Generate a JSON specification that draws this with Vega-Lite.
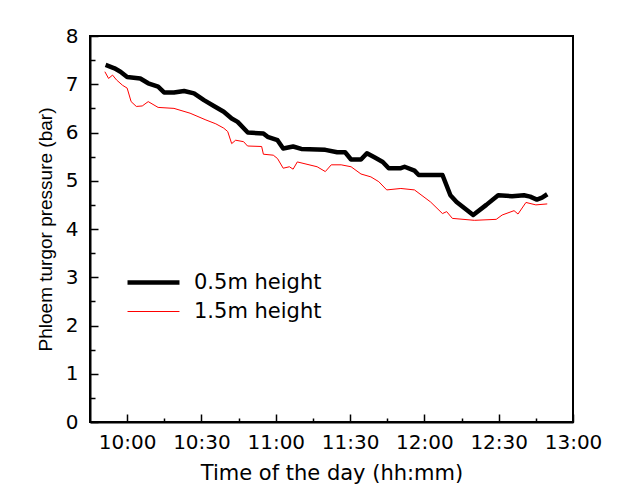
{
  "$schema": "https://vega.github.io/schema/vega-lite/v6.json",
  "autosize": "none",
  "width": 483,
  "height": 386,
  "padding": {"left": 90, "top": 36, "right": 49, "bottom": 68},
  "background": "white",
  "config": {
    "font": "DejaVu Sans",
    "view": {"stroke": "black", "strokeWidth": 2},
    "axis": {"domainColor": "black", "domainWidth": 2, "tickColor": "black", "tickWidth": 1.5, "labelColor": "black", "titleColor": "black", "grid": false}
  },
  "data": {"values": [
    {"time": "2020-01-01T09:51:18", "series": "0.5m height", "pressure": 7.40},
    {"time": "2020-01-01T09:54:54", "series": "0.5m height", "pressure": 7.33},
    {"time": "2020-01-01T09:57:18", "series": "0.5m height", "pressure": 7.26},
    {"time": "2020-01-01T10:00:00", "series": "0.5m height", "pressure": 7.15},
    {"time": "2020-01-01T10:05:18", "series": "0.5m height", "pressure": 7.12},
    {"time": "2020-01-01T10:08:30", "series": "0.5m height", "pressure": 7.02},
    {"time": "2020-01-01T10:12:30", "series": "0.5m height", "pressure": 6.95},
    {"time": "2020-01-01T10:14:54", "series": "0.5m height", "pressure": 6.83},
    {"time": "2020-01-01T10:18:54", "series": "0.5m height", "pressure": 6.83},
    {"time": "2020-01-01T10:23:00", "series": "0.5m height", "pressure": 6.86},
    {"time": "2020-01-01T10:27:00", "series": "0.5m height", "pressure": 6.81},
    {"time": "2020-01-01T10:31:00", "series": "0.5m height", "pressure": 6.67},
    {"time": "2020-01-01T10:35:00", "series": "0.5m height", "pressure": 6.55},
    {"time": "2020-01-01T10:39:00", "series": "0.5m height", "pressure": 6.43},
    {"time": "2020-01-01T10:42:12", "series": "0.5m height", "pressure": 6.29},
    {"time": "2020-01-01T10:44:36", "series": "0.5m height", "pressure": 6.22},
    {"time": "2020-01-01T10:48:42", "series": "0.5m height", "pressure": 6.00},
    {"time": "2020-01-01T10:55:00", "series": "0.5m height", "pressure": 5.98},
    {"time": "2020-01-01T10:56:42", "series": "0.5m height", "pressure": 5.91},
    {"time": "2020-01-01T11:00:42", "series": "0.5m height", "pressure": 5.84},
    {"time": "2020-01-01T11:03:00", "series": "0.5m height", "pressure": 5.67},
    {"time": "2020-01-01T11:07:00", "series": "0.5m height", "pressure": 5.71},
    {"time": "2020-01-01T11:10:18", "series": "0.5m height", "pressure": 5.66},
    {"time": "2020-01-01T11:20:00", "series": "0.5m height", "pressure": 5.64},
    {"time": "2020-01-01T11:24:48", "series": "0.5m height", "pressure": 5.59},
    {"time": "2020-01-01T11:28:00", "series": "0.5m height", "pressure": 5.59},
    {"time": "2020-01-01T11:30:24", "series": "0.5m height", "pressure": 5.44},
    {"time": "2020-01-01T11:34:24", "series": "0.5m height", "pressure": 5.44},
    {"time": "2020-01-01T11:36:48", "series": "0.5m height", "pressure": 5.57},
    {"time": "2020-01-01T11:40:00", "series": "0.5m height", "pressure": 5.48},
    {"time": "2020-01-01T11:43:12", "series": "0.5m height", "pressure": 5.39},
    {"time": "2020-01-01T11:45:36", "series": "0.5m height", "pressure": 5.26},
    {"time": "2020-01-01T11:50:30", "series": "0.5m height", "pressure": 5.26},
    {"time": "2020-01-01T11:52:00", "series": "0.5m height", "pressure": 5.29},
    {"time": "2020-01-01T11:56:00", "series": "0.5m height", "pressure": 5.21},
    {"time": "2020-01-01T11:57:42", "series": "0.5m height", "pressure": 5.12},
    {"time": "2020-01-01T12:07:18", "series": "0.5m height", "pressure": 5.12},
    {"time": "2020-01-01T12:10:30", "series": "0.5m height", "pressure": 4.70},
    {"time": "2020-01-01T12:13:00", "series": "0.5m height", "pressure": 4.56},
    {"time": "2020-01-01T12:19:42", "series": "0.5m height", "pressure": 4.29},
    {"time": "2020-01-01T12:25:00", "series": "0.5m height", "pressure": 4.50},
    {"time": "2020-01-01T12:29:48", "series": "0.5m height", "pressure": 4.70},
    {"time": "2020-01-01T12:35:24", "series": "0.5m height", "pressure": 4.68},
    {"time": "2020-01-01T12:40:12", "series": "0.5m height", "pressure": 4.70},
    {"time": "2020-01-01T12:42:42", "series": "0.5m height", "pressure": 4.67},
    {"time": "2020-01-01T12:45:24", "series": "0.5m height", "pressure": 4.61},
    {"time": "2020-01-01T12:47:30", "series": "0.5m height", "pressure": 4.65},
    {"time": "2020-01-01T12:49:36", "series": "0.5m height", "pressure": 4.72},
    {"time": "2020-01-01T09:51:00", "series": "1.5m height", "pressure": 7.26},
    {"time": "2020-01-01T09:52:30", "series": "1.5m height", "pressure": 7.12},
    {"time": "2020-01-01T09:54:06", "series": "1.5m height", "pressure": 7.19},
    {"time": "2020-01-01T09:55:42", "series": "1.5m height", "pressure": 7.09},
    {"time": "2020-01-01T09:58:06", "series": "1.5m height", "pressure": 6.98},
    {"time": "2020-01-01T10:00:00", "series": "1.5m height", "pressure": 6.92},
    {"time": "2020-01-01T10:01:36", "series": "1.5m height", "pressure": 6.64},
    {"time": "2020-01-01T10:03:42", "series": "1.5m height", "pressure": 6.54},
    {"time": "2020-01-01T10:06:06", "series": "1.5m height", "pressure": 6.55},
    {"time": "2020-01-01T10:08:30", "series": "1.5m height", "pressure": 6.64},
    {"time": "2020-01-01T10:12:30", "series": "1.5m height", "pressure": 6.52},
    {"time": "2020-01-01T10:18:54", "series": "1.5m height", "pressure": 6.50},
    {"time": "2020-01-01T10:25:24", "series": "1.5m height", "pressure": 6.40},
    {"time": "2020-01-01T10:31:48", "series": "1.5m height", "pressure": 6.26},
    {"time": "2020-01-01T10:35:48", "series": "1.5m height", "pressure": 6.18},
    {"time": "2020-01-01T10:39:00", "series": "1.5m height", "pressure": 6.09},
    {"time": "2020-01-01T10:40:36", "series": "1.5m height", "pressure": 6.02},
    {"time": "2020-01-01T10:42:12", "series": "1.5m height", "pressure": 5.77},
    {"time": "2020-01-01T10:43:48", "series": "1.5m height", "pressure": 5.84},
    {"time": "2020-01-01T10:47:00", "series": "1.5m height", "pressure": 5.81},
    {"time": "2020-01-01T10:48:36", "series": "1.5m height", "pressure": 5.72},
    {"time": "2020-01-01T10:54:18", "series": "1.5m height", "pressure": 5.71},
    {"time": "2020-01-01T10:55:00", "series": "1.5m height", "pressure": 5.55},
    {"time": "2020-01-01T10:59:00", "series": "1.5m height", "pressure": 5.53},
    {"time": "2020-01-01T11:00:42", "series": "1.5m height", "pressure": 5.46},
    {"time": "2020-01-01T11:03:00", "series": "1.5m height", "pressure": 5.26},
    {"time": "2020-01-01T11:05:30", "series": "1.5m height", "pressure": 5.29},
    {"time": "2020-01-01T11:07:00", "series": "1.5m height", "pressure": 5.24},
    {"time": "2020-01-01T11:08:42", "series": "1.5m height", "pressure": 5.39},
    {"time": "2020-01-01T11:16:42", "series": "1.5m height", "pressure": 5.29},
    {"time": "2020-01-01T11:20:00", "series": "1.5m height", "pressure": 5.19},
    {"time": "2020-01-01T11:22:24", "series": "1.5m height", "pressure": 5.33},
    {"time": "2020-01-01T11:26:24", "series": "1.5m height", "pressure": 5.33},
    {"time": "2020-01-01T11:30:24", "series": "1.5m height", "pressure": 5.29},
    {"time": "2020-01-01T11:34:24", "series": "1.5m height", "pressure": 5.14},
    {"time": "2020-01-01T11:38:24", "series": "1.5m height", "pressure": 5.08},
    {"time": "2020-01-01T11:41:36", "series": "1.5m height", "pressure": 4.98},
    {"time": "2020-01-01T11:44:48", "series": "1.5m height", "pressure": 4.81},
    {"time": "2020-01-01T11:50:30", "series": "1.5m height", "pressure": 4.84},
    {"time": "2020-01-01T11:56:00", "series": "1.5m height", "pressure": 4.81},
    {"time": "2020-01-01T12:02:30", "series": "1.5m height", "pressure": 4.56},
    {"time": "2020-01-01T12:07:18", "series": "1.5m height", "pressure": 4.32},
    {"time": "2020-01-01T12:09:00", "series": "1.5m height", "pressure": 4.36},
    {"time": "2020-01-01T12:11:18", "series": "1.5m height", "pressure": 4.22},
    {"time": "2020-01-01T12:20:12", "series": "1.5m height", "pressure": 4.18},
    {"time": "2020-01-01T12:29:00", "series": "1.5m height", "pressure": 4.20},
    {"time": "2020-01-01T12:31:24", "series": "1.5m height", "pressure": 4.29},
    {"time": "2020-01-01T12:36:12", "series": "1.5m height", "pressure": 4.38},
    {"time": "2020-01-01T12:37:48", "series": "1.5m height", "pressure": 4.31},
    {"time": "2020-01-01T12:41:00", "series": "1.5m height", "pressure": 4.55},
    {"time": "2020-01-01T12:45:00", "series": "1.5m height", "pressure": 4.50},
    {"time": "2020-01-01T12:49:36", "series": "1.5m height", "pressure": 4.52}
  ]},
  "layer": [
    {
      "mark": {"type": "line", "strokeJoin": "round"},
      "encoding": {
        "x": {
          "field": "time", "type": "temporal",
          "scale": {"domain": [{"year": 2020, "month": 1, "date": 1, "hours": 9, "minutes": 45}, {"year": 2020, "month": 1, "date": 1, "hours": 13, "minutes": 0}]},
          "axis": {
            "orient": "bottom",
            "title": "Time of the day (hh:mm)",
            "titleFont": "DejaVu Sans", "titleFontSize": 21, "titleFontWeight": "normal", "titlePadding": 10,
            "labelFont": "DejaVu Sans", "labelFontSize": 20, "labelPadding": 18, "labelFlush": false, "labelOverlap": false,
            "values": [
              {"year": 2020, "month": 1, "date": 1, "hours": 10, "minutes": 0},
              {"year": 2020, "month": 1, "date": 1, "hours": 10, "minutes": 30},
              {"year": 2020, "month": 1, "date": 1, "hours": 11, "minutes": 0},
              {"year": 2020, "month": 1, "date": 1, "hours": 11, "minutes": 30},
              {"year": 2020, "month": 1, "date": 1, "hours": 12, "minutes": 0},
              {"year": 2020, "month": 1, "date": 1, "hours": 12, "minutes": 30},
              {"year": 2020, "month": 1, "date": 1, "hours": 13, "minutes": 0}
            ],
            "format": "%H:%M",
            "tickSize": -8
          }
        },
        "y": {
          "field": "pressure", "type": "quantitative",
          "scale": {"domain": [0, 8], "nice": false, "zero": true},
          "axis": {
            "orient": "left",
            "title": "Phloem turgor pressure (bar)",
            "titleFont": "Liberation Sans", "titleFontSize": 19, "titleFontWeight": "normal", "titlePadding": 10,
            "labelFont": "DejaVu Sans", "labelFontSize": 20, "labelPadding": 20,
            "values": [0, 1, 2, 3, 4, 5, 6, 7, 8],
            "format": "d",
            "tickSize": -8
          }
        },
        "color": {
          "field": "series", "type": "nominal",
          "scale": {"domain": ["0.5m height", "1.5m height"], "range": ["black", "#ff0000"]},
          "legend": {
            "title": null, "orient": "none", "legendX": 35, "legendY": 234,
            "symbolType": "stroke", "symbolSize": 2700, "labelFont": "DejaVu Sans", "labelFontSize": 21, "labelColor": "black",
            "labelOffset": 12, "rowPadding": 4, "clipHeight": 25
          }
        },
        "strokeWidth": {
          "field": "series", "type": "nominal",
          "scale": {"domain": ["0.5m height", "1.5m height"], "range": [4.5, 1]},
          "legend": null
        }
      }
    },
    {
      "mark": {"type": "line", "opacity": 0},
      "encoding": {
        "x": {
          "field": "time", "type": "temporal",
          "axis": {
            "orient": "bottom", "title": null, "labels": false, "domain": false,
            "values": [
              {"year": 2020, "month": 1, "date": 1, "hours": 10, "minutes": 15},
              {"year": 2020, "month": 1, "date": 1, "hours": 10, "minutes": 45},
              {"year": 2020, "month": 1, "date": 1, "hours": 11, "minutes": 15},
              {"year": 2020, "month": 1, "date": 1, "hours": 11, "minutes": 45},
              {"year": 2020, "month": 1, "date": 1, "hours": 12, "minutes": 15},
              {"year": 2020, "month": 1, "date": 1, "hours": 12, "minutes": 45}
            ],
            "tickSize": -4
          }
        },
        "y": {
          "field": "pressure", "type": "quantitative",
          "axis": {
            "orient": "left", "title": null, "labels": false, "domain": false,
            "values": [0.5, 1.5, 2.5, 3.5, 4.5, 5.5, 6.5, 7.5],
            "tickSize": -5
          }
        },
        "detail": {"field": "series", "type": "nominal"}
      }
    }
  ],
  "resolve": {"axis": {"x": "independent", "y": "independent"}}
}
